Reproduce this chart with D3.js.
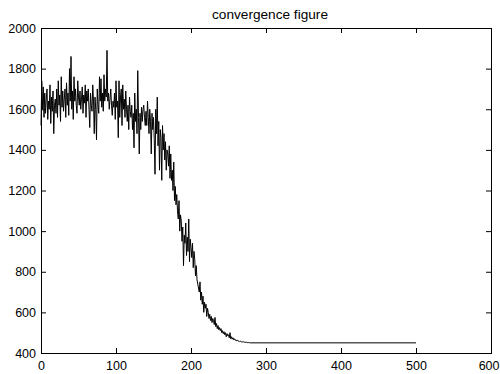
<!DOCTYPE html>
<html>
<head>
<meta charset="utf-8">
<script src="https://cdn.jsdelivr.net/npm/d3@7"></script>
<style>
  html, body { margin: 0; padding: 0; background: #fff; }
  svg { display: block; }
  text { font-family: "Liberation Sans", Arial, sans-serif; fill: #000; }
</style>
</head>
<body>
<svg id="chart" width="500" height="374"></svg>
<script>
// ---- data ----
const titleText = "convergence figure";
const xTicks = [0, 100, 200, 300, 400, 500, 600];
const yTicks = [400, 600, 800, 1000, 1200, 1400, 1600, 1800, 2000];

// iterations 0..279, one value per iteration
const noisyValues = [
  1520,1740,1600,1710,1560,1680,1580,1650,1700,1550,
  1640,1600,1720,1530,1660,1590,1690,1480,1620,1650,
  1580,1700,1560,1740,1620,1670,1540,1760,1610,1690,
  1590,1650,1700,1560,1730,1620,1680,1570,1800,1640,
  1860,1600,1690,1550,1760,1640,1700,1620,1580,1740,
  1660,1620,1690,1600,1650,1710,1580,1670,1630,1720,
  1560,1690,1640,1700,1600,1510,1680,1620,1590,1720,
  1640,1480,1660,1600,1450,1700,1620,1580,1760,1640,
  1750,1610,1680,1590,1770,1640,1700,1660,1890,1640,
  1680,1600,1650,1700,1620,1570,1640,1610,1680,1550,
  1740,1610,1640,1460,1740,1560,1660,1700,1520,1720,
  1600,1650,1560,1690,1600,1540,1620,1500,1660,1590,
  1560,1620,1500,1580,1410,1680,1540,1600,1480,1790,
  1560,1380,1580,1500,1610,1540,1600,1620,1560,1520,
  1590,1520,1640,1560,1480,1600,1540,1380,1580,1500,
  1560,1450,1280,1600,1480,1660,1420,1540,1300,1500,
  1460,1250,1520,1400,1480,1350,1440,1300,1400,1380,
  1320,1420,1260,1380,1250,1300,1200,1340,1150,1220,
  1130,1180,1100,1060,1150,1000,1080,1050,950,1020,
  830,980,940,1040,880,970,900,1060,850,960,
  920,870,940,820,900,860,780,830,760,740,
  720,700,750,660,700,640,680,600,650,620,
  640,580,620,600,570,590,560,580,550,570,
  560,540,575,530,545,520,535,515,525,510,
  520,500,510,495,505,490,500,480,495,485,
  490,475,500,470,480,468,475,465,470,462,
  465,460,463,458,460,456,458,455,456,454,
  455,453,454,452,453,451,452,451,451,450
];
// flat tail, sampled every 20 iterations from 280 to 500
const tailIters  = [280,300,320,340,360,380,400,420,440,460,480,500];
const tailValues = [450,450,450,450,450,450,450,450,450,450,450,450];

const points = noisyValues.map((v, i) => [i, v])
  .concat(tailIters.map((t, i) => [t, tailValues[i]]));

// ---- layout ----
const svg = d3.select("#chart");
const padL = 41, padR = 491, padT = 28, padB = 353;

const x = d3.scaleLinear().domain([0, 600]).range([padL, padR]);
const y = d3.scaleLinear().domain([400, 2000]).range([padB, padT]);

// title
svg.append("text")
  .attr("x", 270).attr("y", 19)
  .attr("text-anchor", "middle")
  .attr("font-size", 12)
  .attr("textLength", 116)
  .attr("lengthAdjust", "spacingAndGlyphs")
  .text(titleText);

// line
svg.append("path")
  .datum(points)
  .attr("fill", "none")
  .attr("stroke", "#000")
  .attr("stroke-width", 1)
  .attr("d", d3.line().x(d => x(d[0])).y(d => y(d[1])));

// axes
function styleAxis(g) {
  g.select(".domain").remove();
  g.selectAll(".tick line").attr("stroke", "#000");
  g.selectAll(".tick text").attr("font-size", 12.5).attr("font-family", "Liberation Sans, Arial, sans-serif");
}

const xAxisG = svg.append("g")
  .attr("transform", `translate(0,${padB})`)
  .call(d3.axisBottom(x).tickValues(xTicks).tickSize(-5).tickPadding(8).tickFormat(d3.format("d")))
  .call(styleAxis);
// keep the last label inside the picture
xAxisG.selectAll(".tick text")
  .filter(d => d === 600)
  .attr("text-anchor", "end")
  .attr("x", 499 - x(600));

svg.append("g")
  .attr("transform", `translate(0,${padT})`)
  .call(d3.axisTop(x).tickValues(xTicks).tickSize(-5).tickFormat(""))
  .call(styleAxis);

svg.append("g")
  .attr("transform", `translate(${padL},0)`)
  .call(d3.axisLeft(y).tickValues(yTicks).tickSize(-5).tickPadding(5).tickFormat(d3.format("d")))
  .call(styleAxis);

svg.append("g")
  .attr("transform", `translate(${padR},0)`)
  .call(d3.axisRight(y).tickValues(yTicks).tickSize(-5).tickFormat(""))
  .call(styleAxis);

// box
svg.append("rect")
  .attr("x", padL).attr("y", padT)
  .attr("width", padR - padL).attr("height", padB - padT)
  .attr("fill", "none").attr("stroke", "#000").attr("stroke-width", 1)
  .attr("shape-rendering", "crispEdges");
</script>
</body>
</html>
